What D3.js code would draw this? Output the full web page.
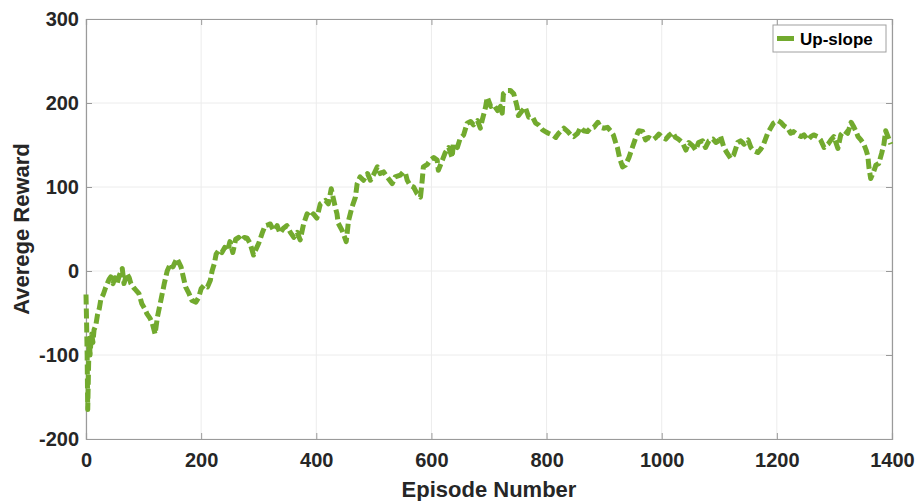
<!DOCTYPE html>
<html>
<head>
<meta charset="utf-8">
<script src="https://cdn.jsdelivr.net/npm/d3@7"></script>
<style>
  html, body { margin: 0; padding: 0; background: #fff; }
  svg { display: block; font-family: "Liberation Sans", Arial, sans-serif; }
</style>
</head>
<body>
<svg id="chart" width="917" height="501"></svg>
<script>
// Moving-average reward per training episode
const episodes = [
  0, 1, 2, 3, 4, 5, 6, 7, 8, 10, 12, 14, 17, 20, 23, 26, 30, 34, 37, 40, 43, 47, 50, 54, 58, 63, 66, 71, 75, 78,
  83, 87, 92, 97, 102, 106, 111, 115, 120, 124, 130, 136, 141, 147, 151, 158, 165, 169, 173, 179, 184, 191, 196,
  200, 205, 211, 216, 219, 223, 226, 231, 236, 241, 246, 250, 255, 260, 265, 270, 275, 280, 285, 291, 294, 300,
  306, 311, 316, 320, 326, 332, 337, 343, 349, 355, 361, 367, 372, 378, 384, 390, 395, 401, 407, 416, 421, 426,
  429, 433, 436, 438, 445, 452, 456, 462, 468, 471, 476, 482, 489, 494, 499, 506, 511, 517, 523, 532, 537, 546,
  551, 555, 558, 563, 569, 575, 581, 584, 586, 593, 598, 604, 610, 612, 619, 624, 630, 636, 638, 645, 650, 656,
  662, 668, 673, 680, 685, 688, 694, 697, 703, 708, 715, 720, 723, 725, 732, 737, 743, 746, 749, 751, 758, 763,
  769, 776, 781, 786, 793, 798, 803, 810, 816, 821, 830, 837, 842, 847, 854, 859, 864, 871, 876, 882, 889, 894,
  899, 906, 911, 916, 920, 923, 927, 932, 937, 943, 949, 955, 960, 967, 972, 977, 984, 990, 995, 1001, 1007,
  1012, 1019, 1024, 1029, 1036, 1042, 1047, 1054, 1059, 1064, 1071, 1076, 1082, 1089, 1094, 1099, 1102, 1108,
  1114, 1120, 1125, 1132, 1137, 1143, 1150, 1155, 1160, 1167, 1172, 1177, 1184, 1189, 1194, 1202, 1207, 1212,
  1219, 1224, 1229, 1236, 1242, 1247, 1254, 1259, 1264, 1271, 1276, 1282, 1289, 1294, 1299, 1306, 1311, 1317,
  1323, 1329, 1334, 1337, 1341, 1346, 1351, 1355, 1358, 1360, 1363, 1369, 1372, 1377, 1382, 1386, 1389, 1393, 1398
];
const rewards = [
  -28, -60, -100, -165, -130, -95, -80, -100, -90, -75, -85, -70, -65, -52, -45, -33, -28, -20, -15, -10, -7, -15,
  -8, -15, -5, 3, -15, -3, -8, -15, -20, -23, -27, -39, -45, -51, -56, -62, -75, -55, -35, -15, 0, 9, 5, 15, 5,
  -7, -19, -27, -35, -37, -31, -21, -17, -19, -11, 0, 9, 20, 25, 22, 28, 24, 35, 22, 38, 40, 36, 40, 39, 33, 19,
  24, 33, 45, 54, 55, 56, 48, 54, 45, 51, 54, 46, 40, 46, 37, 56, 68, 64, 68, 63, 80, 84, 80, 98, 88, 76, 68, 57,
  48, 35, 60, 76, 88, 104, 112, 108, 116, 108, 114, 124, 116, 118, 112, 104, 112, 114, 118, 116, 108, 102, 100,
  92, 88, 108, 124, 127, 132, 135, 132, 120, 132, 141, 147, 135, 151, 147, 158, 162, 176, 178, 174, 179, 170, 179,
  195, 207, 196, 198, 191, 196, 188, 211, 215, 215, 211, 203, 195, 185, 191, 195, 183, 183, 176, 174, 168, 166,
  164, 162, 159, 164, 170, 166, 162, 160, 164, 171, 167, 166, 170, 171, 177, 171, 170, 171, 167, 162, 153, 147,
  134, 124, 126, 135, 147, 159, 167, 166, 156, 159, 156, 159, 163, 159, 157, 161, 165, 159, 157, 153, 144, 153,
  149, 144, 153, 155, 147, 155, 157, 153, 155, 161, 147, 140, 134, 138, 153, 155, 151, 156, 147, 143, 141, 145,
  151, 164, 170, 176, 179, 177, 173, 170, 164, 166, 162, 160, 162, 156, 160, 162, 160, 156, 147, 151, 156, 160,
  146, 162, 167, 164, 177, 171, 167, 160, 156, 151, 144, 137, 123, 110, 120, 126, 128, 140, 151, 167, 160, 151
];
const xTicks = [0, 200, 400, 600, 800, 1000, 1200, 1400];
const yTicks = [-200, -100, 0, 100, 200, 300];
const seriesName = "Up-slope";

const svg = d3.select("#chart");
const margin = { left: 86, right: 25, top: 19, bottom: 62 };
const W = 917, H = 501;
const x0 = margin.left, x1 = W - margin.right, y0 = H - margin.bottom, y1 = margin.top;

const x = d3.scaleLinear().domain([0, 1400]).range([x0, x1]);
const y = d3.scaleLinear().domain([-200, 300]).range([y0, y1]);

const axisColor = "#9a9a9a";
const textColor = "#262626";
const lineColor = "#72aa2e";
const plainNumber = d => String(d);

// grid
const grid = svg.append("g");
grid.selectAll("line.gx").data(xTicks).join("line")
  .attr("x1", d => x(d)).attr("x2", d => x(d))
  .attr("y1", y1).attr("y2", y0)
  .attr("stroke", "#ececec").attr("stroke-width", 1);
grid.selectAll("line.gy").data(yTicks).join("line")
  .attr("x1", x0).attr("x2", x1)
  .attr("y1", d => y(d)).attr("y2", d => y(d))
  .attr("stroke", "#ececec").attr("stroke-width", 1);

// axes (ticks point inward), boxed frame
const bottomAxis = d3.axisBottom(x).tickValues(xTicks).tickSize(-6).tickPadding(14).tickFormat(plainNumber);
const leftAxis = d3.axisLeft(y).tickValues(yTicks).tickSize(-6).tickPadding(7).tickFormat(plainNumber);
const topAxis = d3.axisTop(x).tickValues(xTicks).tickSize(-6).tickFormat("");
const rightAxis = d3.axisRight(y).tickValues(yTicks).tickSize(-6).tickFormat("");

function styleAxis(g) {
  g.select(".domain").attr("stroke", axisColor).attr("stroke-width", 1.2);
  g.selectAll(".tick line").attr("stroke", axisColor).attr("stroke-width", 1);
  g.selectAll(".tick text")
    .attr("fill", textColor)
    .style("font-size", "20px")
    .style("font-weight", "bold");
}

svg.append("g").attr("transform", `translate(0,${y0})`).call(bottomAxis).call(styleAxis);
svg.append("g").attr("transform", `translate(${x0},0)`).call(leftAxis).call(styleAxis);
svg.append("g").attr("transform", `translate(0,${y1})`).call(topAxis).call(styleAxis);
svg.append("g").attr("transform", `translate(${x1},0)`).call(rightAxis).call(styleAxis);

// reward curve
const data = episodes.map((e, i) => ({ e, r: rewards[i] }));
const line = d3.line().x(d => x(d.e)).y(d => y(d.r));
svg.append("path")
  .datum(data)
  .attr("d", line)
  .attr("fill", "none")
  .attr("stroke", lineColor)
  .attr("stroke-width", 5)
  .attr("stroke-dasharray", "10,4")
  .attr("stroke-linejoin", "round");

// axis titles
svg.append("text")
  .attr("x", (x0 + x1) / 2).attr("y", 497)
  .attr("text-anchor", "middle")
  .attr("fill", textColor)
  .style("font-size", "22px").style("font-weight", "bold")
  .text("Episode Number");

svg.append("text")
  .attr("transform", `translate(29,${(y0 + y1) / 2}) rotate(-90)`)
  .attr("text-anchor", "middle")
  .attr("fill", textColor)
  .style("font-size", "22px").style("font-weight", "bold")
  .text("Averege Reward");

// legend
const lg = svg.append("g").attr("transform", "translate(773,25)");
lg.append("rect").attr("width", 113).attr("height", 27)
  .attr("fill", "#fff").attr("stroke", "#a0a0a0").attr("stroke-width", 1);
lg.append("line").attr("x1", 4).attr("x2", 21).attr("y1", 13.5).attr("y2", 13.5)
  .attr("stroke", lineColor).attr("stroke-width", 5);
lg.append("text").attr("x", 27).attr("y", 19.5)
  .attr("fill", "#000")
  .style("font-size", "17px").style("font-weight", "bold")
  .text(seriesName);
</script>
</body>
</html>
